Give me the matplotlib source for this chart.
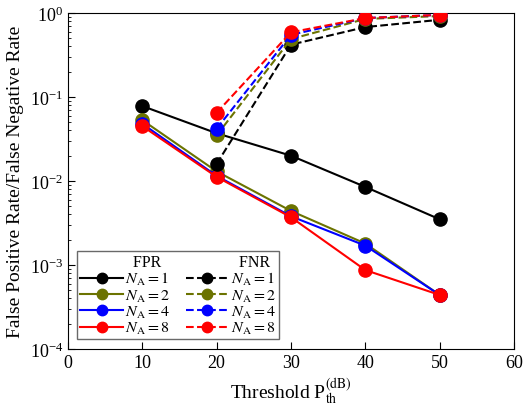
import matplotlib
matplotlib.use('Agg')
from matplotlib import pyplot as pp
from matplotlib.lines import Line2D
from matplotlib import rc

rc('font', **{'family': 'serif', 'serif': ['Liberation Serif']})
rc('mathtext', **{'fontset': 'stix'})

thresholds = [10, 20, 30, 40, 50]
thresholdsFnr = [20, 30, 40, 50]
antennaCounts = [1, 2, 4, 8]

fprN1 = [0.078, 0.037, 0.020, 0.0085, 0.0035]
fprN2 = [0.053, 0.013, 0.0044, 0.0018, 0.00044]
fprN4 = [0.048, 0.0115, 0.0038, 0.0017, 0.00044]
fprN8 = [0.045, 0.0112, 0.0037, 0.00087, 0.00044]

fnrN1 = [0.016, 0.42, 0.68, 0.83]
fnrN2 = [0.035, 0.49, 0.85, 0.92]
fnrN4 = [0.042, 0.55, 0.87, 0.95]
fnrN8 = [0.065, 0.59, 0.87, 0.95]

xTicks = [0, 10, 20, 30, 40, 50, 60]

colorList = ['black', '#6b7300', 'blue', 'red']

fig = pp.figure(figsize=(5.23, 4.14), dpi=100)
ax = fig.add_axes([68/523, 64/414, 446/523, 336/414])

fprAll = [fprN1, fprN2, fprN4, fprN8]
fnrAll = [fnrN1, fnrN2, fnrN4, fnrN8]

for i in range(len(antennaCounts)):
  ax.plot(thresholds, fprAll[i], '-o', color=colorList[i], lw=1.5, ms=9.5, zorder=10+i)
for i in range(len(antennaCounts)):
  ax.plot(thresholdsFnr, fnrAll[i], '--o', color=colorList[i], lw=1.5, ms=9.5, zorder=20+i)

ax.set_yscale('log')
ax.set_ylim(1e-4, 1)
ax.set_xlim(0, 60)
ax.set_xticks(xTicks)
ax.set_yticks([1e-4, 1e-3, 1e-2, 1e-1, 1])
ax.tick_params(which='both', direction='in', labelsize=13)
ax.tick_params(which='major', length=5)
ax.tick_params(which='minor', length=2.5)

ax.set_xlabel(r'Threshold P$_{\rm th}^{\rm (dB)}$', fontsize=14)
ax.set_ylabel('False Positive Rate/False Negative Rate', fontsize=14)

# legend: two columns with titles
blank = Line2D([], [], color='none')
handles = [blank]
labels = ['  FPR']
for i in range(len(antennaCounts)):
  handles.append(Line2D([], [], color=colorList[i], ls='-', marker='o', ms=7.5, lw=1.5))
  labels.append(r'$N_{\rm A} = %d$' % antennaCounts[i])
handles.append(blank)
labels.append('  FNR')
for i in range(len(antennaCounts)):
  handles.append(Line2D([], [], color=colorList[i], ls='--', marker='o', ms=7.5, lw=1.5))
  labels.append(r'$N_{\rm A} = %d$' % antennaCounts[i])

leg = ax.legend(handles, labels, ncol=2, loc='lower left', bbox_to_anchor=(0.02, 0.03),
                fontsize=11.5, frameon=True, fancybox=False, edgecolor='#444444',
                handlelength=2.7, handletextpad=0.1, columnspacing=1.0,
                labelspacing=0.0, borderpad=0.2, handleheight=0.5, borderaxespad=0)
leg.get_frame().set_linewidth(1.0)

pp.savefig('out.png', dpi=100)
